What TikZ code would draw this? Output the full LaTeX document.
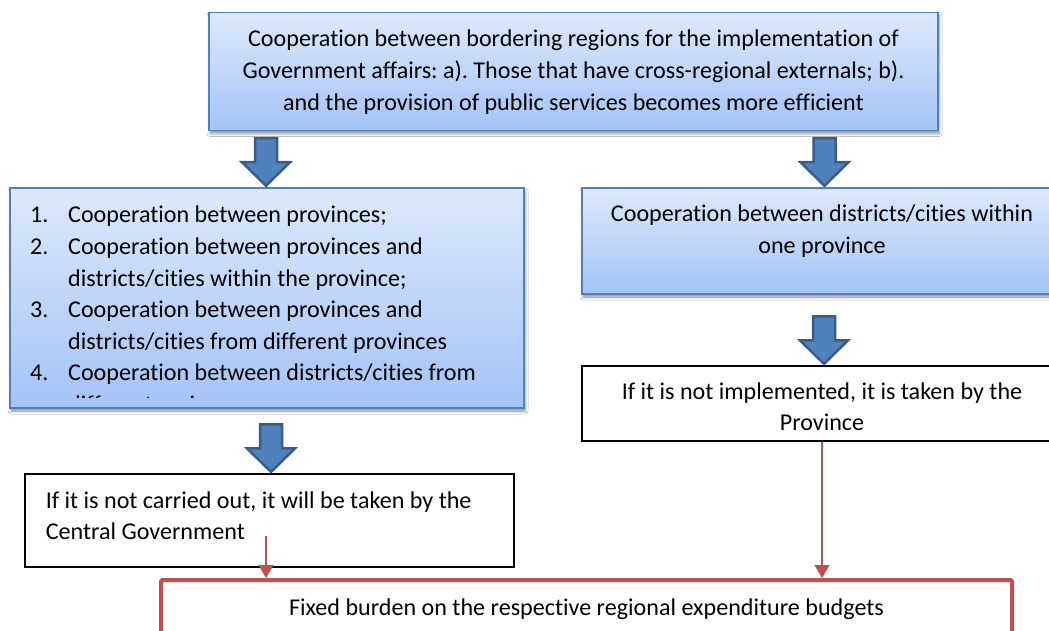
\documentclass[tikz,border=0pt]{standalone}
\usepackage{fontspec}
\setmainfont{Carlito}[Ligatures={NoCommon}]
\usetikzlibrary{shadows.blur,arrows.meta}

\definecolor{boxtop}{HTML}{DDE9FC}
\definecolor{boxbot}{HTML}{A4C3F6}
\definecolor{boxedge}{HTML}{4F81BD}
\definecolor{arrfill}{HTML}{4F81BD}
\definecolor{arredge}{HTML}{385D8A}
\definecolor{burdred}{HTML}{C0504D}

\tikzset{
  bluebox/.style={draw=boxedge, line width=1.5pt, top color=boxtop, bottom color=boxbot,
    inner sep=0pt, blur shadow={shadow xshift=1pt, shadow yshift=-3pt,
    shadow blur radius=3pt, shadow opacity=45}},
  whitebox/.style={draw=black, line width=1.2pt, fill=white, inner sep=0pt},
  redbox/.style={draw=burdred, line width=4pt, fill=white, inner sep=0pt, rounded corners=1.5pt},
  txt/.style={inner sep=0pt, font=\fontsize{24.1}{31.6}\selectfont\frenchspacing, align=center},
  redarrow/.style={draw=burdred, line width=1.3pt, -{Triangle[width=15pt,length=13pt]}},
  arrowline/.style={draw=arredge, fill=arrfill, line width=2.5pt, line join=miter},
  blockarrow/.pic={
    \path[arrowline] (-11,-49) -- (11,-49) -- (11,-25) -- (24,-25) -- (0,-1.5)
      -- (-24,-25) -- (-11,-25) -- cycle;
  }
}

\begin{document}
\begin{tikzpicture}[x=1pt, y=-1pt]
  \clip (0,0) rectangle (1049,631);
  \fill[white] (0,0) rectangle (1049,631);

  % boxes
  \node[bluebox, minimum width=729pt, minimum height=118pt] (top) at (573.5,71.5) {};
  \node[bluebox, minimum width=514pt, minimum height=220pt] (provs) at (267,298) {};
  \node[bluebox, minimum width=480pt, minimum height=106pt] (distr) at (822,241) {};
  \node[whitebox, minimum width=480pt, minimum height=75pt] (provtaken) at (822,403.5) {};
  \node[whitebox, minimum width=489pt, minimum height=93pt] (central) at (269.5,520.5) {};
  \node[redbox, minimum width=851pt, minimum height=90pt] (burden) at (586.5,625) {};

  % texts (first baseline sits 0.7 of the line skip below each node's top)
  \node[txt, anchor=north] (toptext) at (573.5,24.6) {\strut Cooperation between bordering regions for the implementation of\\
    Government affairs: a). Those that have cross-regional externals; b).\\
    and the provision of public services becomes more efficient};

  \begin{scope}
    % the list runs past the bottom margin of its box and is cut off there
    \clip (10,188) rectangle (524,397.5);
    \node[txt, align=left, anchor=north west] (provlist) at (30,200.6) {\strut
      \makebox[38pt][l]{1.}Cooperation between provinces;\\
      \makebox[38pt][l]{2.}Cooperation between provinces and\\
      \hspace*{38pt}districts/cities within the province;\\
      \makebox[38pt][l]{3.}Cooperation between provinces and\\
      \hspace*{38pt}districts/cities from different provinces\\
      \makebox[38pt][l]{4.}Cooperation between districts/cities from\\
      \hspace*{38pt}different regions};
  \end{scope}

  \node[txt, anchor=north] (distrtext) at (822,199.6) {\strut Cooperation between districts/cities within\\ one province};
  \node[txt, anchor=north] (provtakentext) at (822,376.9) {\strut If it is not implemented, it is taken by the\\ Province};
  \node[txt, align=left, anchor=north west] (centraltext) at (45.6,485.9) {\strut If it is not carried out, it will be taken by the\\ Central Government};
  \node[txt, anchor=north] (burdentext) at (586.5,592.9) {\strut Fixed burden on the respective regional expenditure budgets};

  % block arrows
  \pic at ([xshift=-1pt]provs.north) {blockarrow};
  \pic at ([xshift=2.5pt]distr.north) {blockarrow};
  \pic at ([xshift=1.5pt]central.north) {blockarrow};
  \pic at ([xshift=2pt]provtaken.north) {blockarrow};

  % red connectors
  \coordinate (cgstart) at (266,536);
  \draw[redarrow] (cgstart) -- (cgstart |- burden.north);
  \draw[redarrow] (provtaken.south) -- (provtaken.south |- burden.north);
\end{tikzpicture}
\end{document}
